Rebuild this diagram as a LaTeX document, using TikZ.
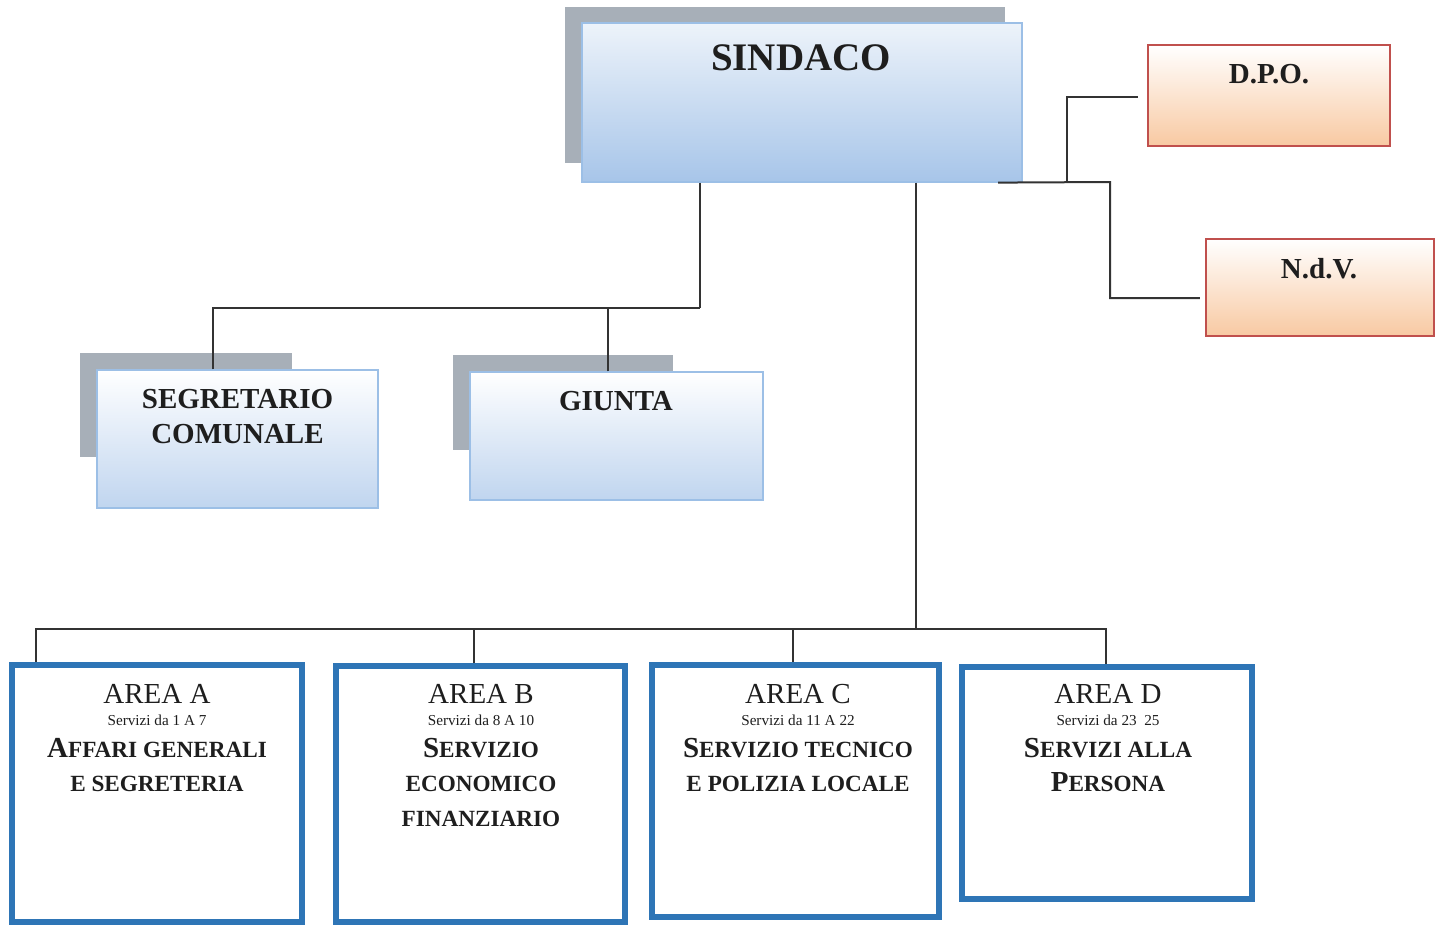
\documentclass[tikz,border=0pt]{standalone}
\usepackage{fontspec}
\setmainfont{Liberation Serif}
\usetikzlibrary{fit}
\definecolor{shadowgray}{HTML}{A7AFB8}
\definecolor{skyedge}{HTML}{9CBFE6}
\definecolor{skytop}{HTML}{EDF3FA}
\definecolor{skybot}{HTML}{A7C5E9}
\definecolor{paleblue}{HTML}{C0D5EF}
\definecolor{peach}{HTML}{F8C9A2}
\definecolor{rededge}{HTML}{C0504D}
\definecolor{areablue}{HTML}{2E75B6}
\definecolor{ink}{HTML}{1E1E1E}
\definecolor{wirecol}{HTML}{333333}
\newcommand\capL{\fontsize{14.5}{17}\selectfont}
\newcommand\capS{\fontsize{11.6}{14}\selectfont}
\tikzset{
  shadowbox/.style={fill=shadowgray, draw=none, inner sep=0pt},
  skybox/.style={draw=skyedge, line width=0.6pt, top color=skytop, bottom color=skybot, inner sep=0pt},
  lightbox/.style={draw=skyedge, line width=0.6pt, top color=white, middle color=white, bottom color=paleblue, inner sep=0pt},
  peachbox/.style={draw=rededge, line width=1.2pt, top color=white, middle color=white, bottom color=peach, inner sep=0pt},
  areabox/.style={draw=areablue, line width=3pt, fill=white, inner sep=0pt},
  wire/.style={draw=wirecol, line width=1pt},
  title/.style={font=\bfseries\capL, text=ink, anchor=base, inner sep=0pt},
  bigtitle/.style={font=\bfseries\fontsize{19.5}{22}\selectfont, text=ink, anchor=base, inner sep=0pt},
  areatitle/.style={font=\fontsize{14.5}{17}\selectfont, text=ink, anchor=base, inner sep=0pt},
  areanote/.style={font=\fontsize{7.6}{9}\selectfont, text=ink, anchor=base, inner sep=0pt},
  arealine/.style={font=\bfseries, text=ink, anchor=base, inner sep=0pt},
}
\begin{document}
\begin{tikzpicture}[x=0.5pt,y=-0.5pt]
\useasboundingbox[fill=white] (0,0) rectangle (1442,927);

% SINDACO
\node[shadowbox, fit={(565,7) (1005,163)}] (sindsh) {};
\node[skybox, fit={(582,23) (1022,182)}] (sind) {};
\node[bigtitle] (sindt) at (801,70) {SINDACO};

% SEGRETARIO COMUNALE
\node[shadowbox, fit={(80,353) (292,457)}] (segsh) {};
\node[lightbox, fit={(97,370) (378,508)}] (seg) {};
\node[title] (segt1) at (237.5,408) {SEGRETARIO};
\node[title] (segt2) at (237.5,443) {COMUNALE};

% GIUNTA
\node[shadowbox, fit={(453,355) (673,450)}] (giush) {};
\node[lightbox, fit={(470,372) (763,500)}] (giu) {};
\node[title] (giut) at (616,410) {GIUNTA};

% D.P.O. and N.d.V.
\node[peachbox, fit={(1148,45) (1390,146)}] (dpo) {};
\node[title] (dpot) at (1269,83) {D.P.O.};
\node[peachbox, fit={(1206,239) (1434,336)}] (ndv) {};
\node[title] (ndvt) at (1319,278) {N.d.V.};

% AREAS
\node[areabox, fit={(11.5,665) (301.5,921.5)}] (areaA) {};
\node[areabox, fit={(336,666) (625,922)}] (areaB) {};
\node[areabox, fit={(651.5,665) (938.5,916.5)}] (areaC) {};
\node[areabox, fit={(961.5,666.5) (1251.5,898.5)}] (areaD) {};

\node[areatitle] (aA0) at (157,703) {AREA A};
\node[areanote] (aA1) at (157,725) {Servizi da 1 A 7};
\node[arealine] (aA2) at (157,757) {{\capL A}{\capS FFARI GENERALI}};
\node[arealine] (aA3) at (157,791) {{\capS E SEGRETERIA}};

\node[areatitle] (aB0) at (481,703) {AREA B};
\node[areanote] (aB1) at (481,725) {Servizi da 8 A 10};
\node[arealine] (aB2) at (481,757) {{\capL S}{\capS ERVIZIO}};
\node[arealine] (aB3) at (481,791) {{\capS ECONOMICO}};
\node[arealine] (aB4) at (481,826) {{\capS FINANZIARIO}};

\node[areatitle] (aC0) at (798,703) {AREA C};
\node[areanote] (aC1) at (798,725) {Servizi da 11 A 22};
\node[arealine] (aC2) at (798,757) {{\capL S}{\capS ERVIZIO TECNICO}};
\node[arealine] (aC3) at (798,791) {{\capS E POLIZIA LOCALE}};

\node[areatitle] (aD0) at (1108,703) {AREA D};
\node[areanote] (aD1) at (1108,725) {Servizi da 23\ \ 25};
\node[arealine] (aD2) at (1108,757) {{\capL S}{\capS ERVIZI ALLA}};
\node[arealine] (aD3) at (1108,791) {{\capL P}{\capS ERSONA}};

% connectors: upper left
\coordinate (j1) at (700,308);
\coordinate (xseg) at (213,0);
\coordinate (xgiu) at (608,0);
\draw[wire] (sind.south -| j1) -- (j1);
\draw[wire] (seg.north -| xseg) |- (j1);
\draw[wire] (giu.north -| xgiu) -- (xgiu |- j1);

% connectors: bus to areas
\coordinate (bus) at (916,629);
\coordinate (xA) at (36,0);
\coordinate (xB) at (474,0);
\coordinate (xC) at (793,0);
\coordinate (xD) at (1106,0);
\draw[wire] (sind.south -| bus) -- (bus);
\draw[wire] (areaA.north -| xA) |- (bus);
\draw[wire] (areaD.north -| xD) |- (bus);
\draw[wire] (areaB.north -| xB) -- (xB |- bus);
\draw[wire] (areaC.north -| xC) -- (xC |- bus);

% connectors: right side
\coordinate (r0) at (998,0);
\coordinate (r1) at (1110,182);
\coordinate (r2) at (1067,182);
\draw[wire] (sind.south -| r0) -- (r1) |- ([xshift=-2.5pt,yshift=-5.25pt]ndv.west);
\draw[wire] (r2) |- ([xshift=-4.5pt,yshift=-0.75pt]dpo.west);
\end{tikzpicture}
\end{document}
